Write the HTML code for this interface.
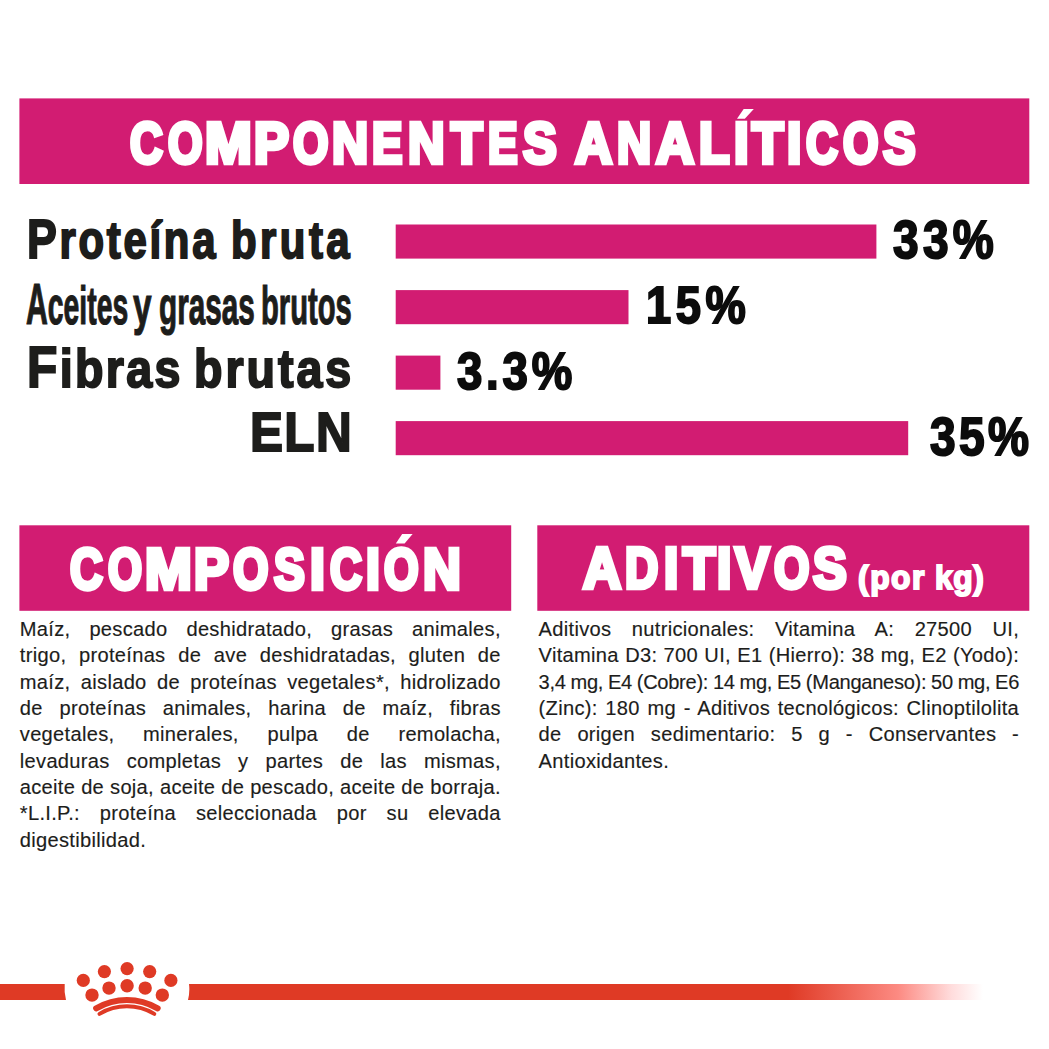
<!DOCTYPE html>
<html><head><meta charset="utf-8">
<style>
html,body{margin:0;padding:0;background:#fff;}
body{width:1049px;height:1049px;position:relative;overflow:hidden;font-family:"Liberation Sans",sans-serif;}
.a{position:absolute;white-space:nowrap;line-height:1;transform-origin:0 0;}
.c{font-size:1.067em;line-height:0;}
.box{position:absolute;background:#d21c72;}
.bar{position:absolute;background:#d21c72;}
.h{color:#fff;font-weight:bold;}
.lb{color:#1d1d1b;font-weight:bold;}
.pc{color:#0c0c0c;font-weight:bold;}
.txt{position:absolute;font-size:20.1px;letter-spacing:0.3px;line-height:26.34px;color:#1d1d1b;-webkit-text-stroke:0.15px #1d1d1b;}
.txt div{text-align:justify;text-align-last:justify;white-space:nowrap;}
.txt div.l{text-align-last:left;}
</style></head><body>
<svg style="position:absolute;left:0;top:0" width="1049" height="1049" viewBox="0 0 1049 1049">
<g fill="#d21c72">
<rect x="19.4" y="98.4" width="1009.9" height="85.6"/>
<rect x="395.7" y="224.5" width="480.7" height="34.1"/>
<rect x="395.7" y="290.1" width="232.8" height="34.1"/>
<rect x="395.7" y="355.6" width="44.7" height="34.1"/>
<rect x="395.7" y="421.1" width="512.5" height="34.1"/>
<rect x="19.4" y="525.3" width="491.8" height="85.5"/>
<rect x="537.3" y="525.3" width="492" height="85.5"/>
</g>
</svg>
<!--HEADS-->
<div class="a h" style="left:130.40px;top:116.21px;font-size:56.81px;transform:scaleX(0.7976);-webkit-text-stroke:4.5px currentColor;">C</div>
<div class="a h" style="left:167.60px;top:116.21px;font-size:56.81px;transform:scaleX(0.7818);-webkit-text-stroke:4.5px currentColor;">O</div>
<div class="a h" style="left:204.52px;top:116.21px;font-size:56.81px;transform:scaleX(0.9886);-webkit-text-stroke:4.5px currentColor;">M</div>
<div class="a h" style="left:253.55px;top:116.21px;font-size:56.81px;transform:scaleX(0.9250);-webkit-text-stroke:4.5px currentColor;">P</div>
<div class="a h" style="left:293.20px;top:116.21px;font-size:56.81px;transform:scaleX(0.8023);-webkit-text-stroke:4.5px currentColor;">O</div>
<div class="a h" style="left:332.14px;top:116.21px;font-size:56.81px;transform:scaleX(0.8811);-webkit-text-stroke:4.5px currentColor;">N</div>
<div class="a h" style="left:372.19px;top:116.21px;font-size:56.81px;transform:scaleX(0.8028);-webkit-text-stroke:4.5px currentColor;">E</div>
<div class="a h" style="left:408.22px;top:116.21px;font-size:56.81px;transform:scaleX(0.8919);-webkit-text-stroke:4.5px currentColor;">N</div>
<div class="a h" style="left:451.31px;top:116.21px;font-size:56.81px;transform:scaleX(0.9053);-webkit-text-stroke:4.5px currentColor;">T</div>
<div class="a h" style="left:487.74px;top:116.21px;font-size:56.81px;transform:scaleX(0.7806);-webkit-text-stroke:4.5px currentColor;">E</div>
<div class="a h" style="left:522.79px;top:116.21px;font-size:56.81px;transform:scaleX(0.8897);-webkit-text-stroke:4.5px currentColor;">S</div>
<div class="a h" style="left:575.41px;top:116.21px;font-size:56.81px;transform:scaleX(0.9070);-webkit-text-stroke:4.5px currentColor;">A</div>
<div class="a h" style="left:617.24px;top:116.21px;font-size:56.81px;transform:scaleX(0.8324);-webkit-text-stroke:4.5px currentColor;">N</div>
<div class="a h" style="left:656.03px;top:116.21px;font-size:56.81px;transform:scaleX(0.9279);-webkit-text-stroke:4.5px currentColor;">A</div>
<div class="a h" style="left:698.64px;top:116.21px;font-size:56.81px;transform:scaleX(0.8788);-webkit-text-stroke:4.5px currentColor;">L</div>
<div class="a h" style="left:733.75px;top:116.21px;font-size:56.81px;transform:scaleX(0.9250);-webkit-text-stroke:4.5px currentColor;">I</div>
<div class="a h" style="left:752.21px;top:116.21px;font-size:56.81px;transform:scaleX(0.9053);-webkit-text-stroke:4.5px currentColor;">T</div>
<div class="a h" style="left:787.48px;top:116.21px;font-size:56.81px;transform:scaleX(0.9083);-webkit-text-stroke:4.5px currentColor;">I</div>
<div class="a h" style="left:805.60px;top:116.21px;font-size:56.81px;transform:scaleX(0.7762);-webkit-text-stroke:4.5px currentColor;">C</div>
<div class="a h" style="left:842.80px;top:116.21px;font-size:56.81px;transform:scaleX(0.8023);-webkit-text-stroke:4.5px currentColor;">O</div>
<div class="a h" style="left:883.46px;top:116.21px;font-size:56.81px;transform:scaleX(0.8590);-webkit-text-stroke:4.5px currentColor;">S</div>
<div class="a h" style="left:70.40px;top:541.51px;font-size:56.81px;transform:scaleX(0.7976);-webkit-text-stroke:4.5px currentColor;">C</div>
<div class="a h" style="left:107.60px;top:541.51px;font-size:56.81px;transform:scaleX(0.7705);-webkit-text-stroke:4.5px currentColor;">O</div>
<div class="a h" style="left:144.52px;top:541.51px;font-size:56.81px;transform:scaleX(0.9886);-webkit-text-stroke:4.5px currentColor;">M</div>
<div class="a h" style="left:193.55px;top:541.51px;font-size:56.81px;transform:scaleX(0.9250);-webkit-text-stroke:4.5px currentColor;">P</div>
<div class="a h" style="left:233.20px;top:541.51px;font-size:56.81px;transform:scaleX(0.8023);-webkit-text-stroke:4.5px currentColor;">O</div>
<div class="a h" style="left:273.81px;top:541.51px;font-size:56.81px;transform:scaleX(0.8128);-webkit-text-stroke:4.5px currentColor;">S</div>
<div class="a h" style="left:310.02px;top:541.51px;font-size:56.81px;transform:scaleX(0.9417);-webkit-text-stroke:4.5px currentColor;">I</div>
<div class="a h" style="left:330.00px;top:541.51px;font-size:56.81px;transform:scaleX(0.7786);-webkit-text-stroke:4.5px currentColor;">C</div>
<div class="a h" style="left:366.35px;top:541.51px;font-size:56.81px;transform:scaleX(0.8750);-webkit-text-stroke:4.5px currentColor;">I</div>
<div class="a h" style="left:383.50px;top:541.51px;font-size:56.81px;transform:scaleX(0.7841);-webkit-text-stroke:4.5px currentColor;">O</div>
<div class="a h" style="left:423.36px;top:541.51px;font-size:56.81px;transform:scaleX(0.9216);-webkit-text-stroke:4.5px currentColor;">N</div>
<div class="a h" style="left:583.13px;top:541.41px;font-size:56.81px;transform:scaleX(0.9279);-webkit-text-stroke:4.5px currentColor;">A</div>
<div class="a h" style="left:624.97px;top:541.41px;font-size:56.81px;transform:scaleX(0.8128);-webkit-text-stroke:4.5px currentColor;">D</div>
<div class="a h" style="left:663.80px;top:541.41px;font-size:56.81px;transform:scaleX(0.9000);-webkit-text-stroke:4.5px currentColor;">I</div>
<div class="a h" style="left:682.86px;top:541.41px;font-size:56.81px;transform:scaleX(0.9289);-webkit-text-stroke:4.5px currentColor;">T</div>
<div class="a h" style="left:717.48px;top:541.41px;font-size:56.81px;transform:scaleX(0.9083);-webkit-text-stroke:4.5px currentColor;">I</div>
<div class="a h" style="left:734.91px;top:541.41px;font-size:56.81px;transform:scaleX(0.9047);-webkit-text-stroke:4.5px currentColor;">V</div>
<div class="a h" style="left:773.90px;top:541.41px;font-size:56.81px;transform:scaleX(0.8023);-webkit-text-stroke:4.5px currentColor;">O</div>
<div class="a h" style="left:812.79px;top:541.41px;font-size:56.81px;transform:scaleX(0.8897);-webkit-text-stroke:4.5px currentColor;">S</div>
<!--/HEADS-->

<div class="a lb" id="l1a" style="left:26.6px;top:214.07px;font-size:52.43px;transform:scaleX(0.8);-webkit-text-stroke:2px currentColor;letter-spacing:3.357px;"><span class="c">P</span>roteína</div>
<div class="a lb" id="l1b" style="left:230.5px;top:214.07px;font-size:52.43px;transform:scaleX(0.8);-webkit-text-stroke:2px currentColor;letter-spacing:4.313px;">bruta</div>
<div class="a lb" id="l2a" style="left:26.0px;top:278.55px;font-size:53.52px;transform:scaleX(0.5295);-webkit-text-stroke:1.2px currentColor;"><span class="c">A</span>ceites</div>
<div class="a lb" id="l2b" style="left:133.2px;top:278.55px;font-size:53.52px;transform:scaleX(0.6234);-webkit-text-stroke:1.2px currentColor;">y</div>
<div class="a lb" id="l2c" style="left:158.8px;top:278.55px;font-size:53.52px;transform:scaleX(0.555);-webkit-text-stroke:1.2px currentColor;">grasas</div>
<div class="a lb" id="l2d" style="left:261.3px;top:278.55px;font-size:53.52px;transform:scaleX(0.5451);-webkit-text-stroke:1.2px currentColor;">brutos</div>
<div class="a lb" id="l3a" style="left:26.7px;top:342.81px;font-size:52.97px;transform:scaleX(0.88);-webkit-text-stroke:2px currentColor;letter-spacing:2.636px;"><span class="c">F</span>ibras</div>
<div class="a lb" id="l3b" style="left:194.4px;top:342.81px;font-size:52.97px;transform:scaleX(0.88);-webkit-text-stroke:2px currentColor;letter-spacing:3.364px;">brutas</div>
<div class="a lb" id="l4" style="left:250.1px;top:403.85px;font-size:56.23px;transform:scaleX(0.88);-webkit-text-stroke:2px currentColor;letter-spacing:1.534px;">ELN</div>


<div class="a pc" id="p1" style="left:892.5px;top:213.51px;font-size:52.97px;transform:scaleX(0.87);-webkit-text-stroke:2px currentColor;letter-spacing:4.885px;">33%</div>
<div class="a pc" id="p2" style="left:645.9px;top:279.43px;font-size:52.12px;transform:scaleX(0.87);-webkit-text-stroke:2px currentColor;letter-spacing:5.172px;">15%</div>
<div class="a pc" id="p3" style="left:457.3px;top:344.89px;font-size:52.41px;transform:scaleX(0.87);-webkit-text-stroke:2px currentColor;letter-spacing:4.33px;">3.3%</div>
<div class="a pc" id="p4" style="left:929.8px;top:410.51px;font-size:52.97px;transform:scaleX(0.87);-webkit-text-stroke:2px currentColor;letter-spacing:3.908px;">35%</div>

<div class="a h" id="t4a" style="left:857.7px;top:561.16px;font-size:33.42px;transform:scaleX(0.95);-webkit-text-stroke:2px currentColor;letter-spacing:1.649px;">(por</div>
<div class="a h" id="t4b" style="left:934.8px;top:561.16px;font-size:33.42px;transform:scaleX(0.95);-webkit-text-stroke:2px currentColor;letter-spacing:0.579px;">kg)</div>

<div class="txt" id="c1" style="left:19.8px;top:615.87px;width:481px;">
<div>Maíz, pescado deshidratado, grasas animales,</div>
<div>trigo, proteínas de ave deshidratadas, gluten de</div>
<div>maíz, aislado de proteínas vegetales*, hidrolizado</div>
<div>de proteínas animales, harina de maíz, fibras</div>
<div>vegetales, minerales, pulpa de remolacha,</div>
<div>levaduras completas y partes de las mismas,</div>
<div style="word-spacing:-1px">aceite de soja, aceite de pescado, aceite de borraja.</div>
<div>*L.I.P.: proteína seleccionada por su elevada</div>
<div class="l">digestibilidad.</div>
</div>
<div class="txt" id="c2" style="left:538.6px;top:615.87px;width:480.5px;">
<div>Aditivos nutricionales: Vitamina A: 27500 UI,</div>
<div>Vitamina D3: 700 UI, E1 (Hierro): 38 mg, E2 (Yodo):</div>
<div style="word-spacing:-3px;letter-spacing:-0.3px">3,4 mg, E4 (Cobre): 14 mg, E5 (Manganeso): 50 mg, E6</div>
<div>(Zinc): 180 mg - Aditivos tecnológicos: Clinoptilolita</div>
<div>de origen sedimentario: 5 g - Conservantes -</div>
<div class="l">Antioxidantes.</div>
</div>

<svg style="position:absolute;left:0;top:0" width="1049" height="1049" viewBox="0 0 1049 1049">
<defs>
<linearGradient id="g" x1="188" y1="0" x2="983" y2="0" gradientUnits="userSpaceOnUse">
<stop offset="0" stop-color="#df3a25"/>
<stop offset="0.755" stop-color="#df3a25"/>
<stop offset="0.893" stop-color="#fc8a82"/>
<stop offset="0.96" stop-color="#ffdcdc"/>
<stop offset="1" stop-color="#ffffff"/>
</linearGradient>
</defs>
<path d="M0 984 H64.7 Q64 992 66 1000 H0 Z" fill="#df3a25"/>
<path d="M189 984 H985 V1000 H188 Q190 992 189 984 Z" fill="url(#g)"/>
<g fill="#fff">
<polygon points="737,118.7 744.8,118.7 753.8,109 743.7,109"/>
<polygon points="395.8,543.6 404.6,543.6 412.6,534 402.2,534"/>
</g>
<g fill="#df3a25">
<circle cx="83.3" cy="980.4" r="6.6"/>
<circle cx="104.4" cy="971.6" r="6.6"/>
<circle cx="127.1" cy="968.6" r="6.6"/>
<circle cx="149.7" cy="971.6" r="6.6"/>
<circle cx="170.9" cy="980.4" r="6.6"/>
<circle cx="92" cy="995.1" r="6.7"/>
<circle cx="109" cy="988.1" r="6.7"/>
<circle cx="127.1" cy="985.7" r="6.7"/>
<circle cx="145.2" cy="988.1" r="6.7"/>
<circle cx="162.3" cy="995.1" r="6.7"/>
</g>
<g fill="none" stroke="#df3a25" stroke-linecap="round">
<path d="M96.2 1008.3 A60.5 60.5 0 0 1 157.6 1008.3" stroke-width="6.1"/>
<path d="M99.5 1013.9 A53.5 53.5 0 0 1 154.3 1013.9" stroke-width="4"/>
</g>
</svg>
</body></html>
